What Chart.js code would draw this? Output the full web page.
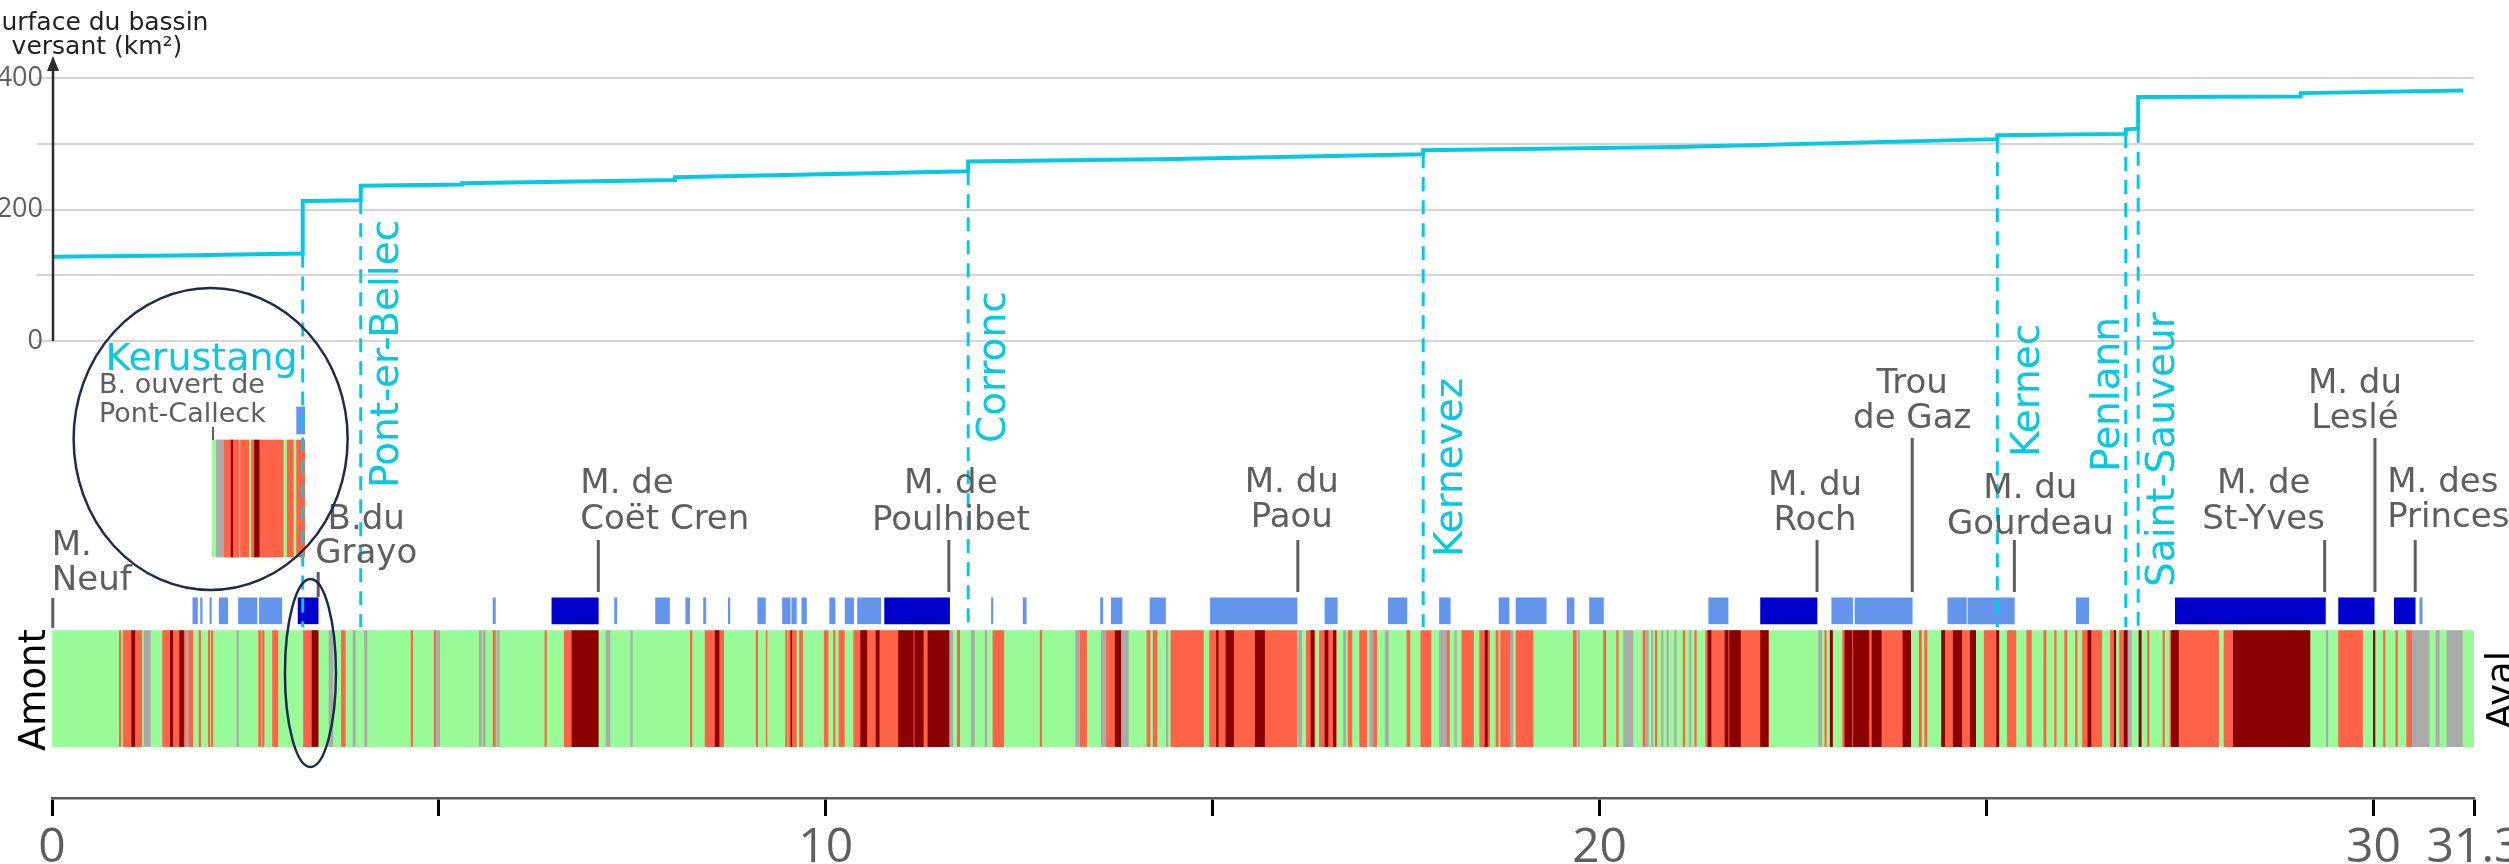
<!DOCTYPE html>
<html lang="fr">
<head>
<meta charset="utf-8">
<title>Surface du bassin versant et tronçons</title>
<script src="https://cdn.jsdelivr.net/npm/chart.js@4.4.1/dist/chart.umd.min.js"></script>
<style>
  html, body { margin: 0; padding: 0; background: #ffffff; overflow: hidden; }
  #wrap { position: relative; width: 2509px; height: 864px; }
  #main { position: absolute; left: 0; top: 0; z-index: 2; }
  #inset { position: absolute; left: 212px; top: 400px; z-index: 1; }
</style>
</head>
<body>
<div id="wrap">
  <canvas id="inset" width="93" height="160"></canvas>
  <canvas id="main" width="2509" height="864"></canvas>
</div>
<script>
// ---------------- DATA ----------------
// Drainage area along the river (distance in km, area in km²)
const areaKm  = [0, 1.6, 3.24, 3.24, 3.99, 3.99, 5.3, 5.3, 8.05, 8.05, 11.84, 11.84, 14.5, 17.72, 17.72, 21.0, 25.14, 25.14, 26.80, 26.80, 26.96, 26.96, 29.06, 29.06, 31.16];
const areaVal = [128, 130, 133, 213, 214, 236, 238, 240, 245, 249, 258, 273, 277, 284, 290, 295, 307, 313, 315, 322, 323, 371, 372, 377, 381];

// Axis ticks
const xTickValues = [0, 5, 10, 15, 20, 25, 30, 31.3];
const xTickLabels = ['0', '', '10', '', '20', '', '30', '31.3'];
const yTickValues = [0, 100, 200, 300, 400];
const yTickLabels = ['0', '', '200', '', '400'];

// Tributaries (confluence distance, km)
const tributaryNames = ['Kerustang', 'Pont-er-Bellec', 'Corronc', 'Kernevez', 'Kernec', 'Penlann', 'Saint-Sauveur'];
const tributaryKm    = [3.24, 3.99, 11.84, 17.72, 25.14, 26.80, 26.96];

// Mills / dams (distance, km)
const millNames = [['M.', 'Neuf'], ['B.du', 'Grayo'], ['M. de', 'Coët Cren'], ['M. de', 'Poulhibet'], ['M. du', 'Paou'],
                   ['M. du', 'Roch'], ['Trou', 'de Gaz'], ['M. du', 'Gourdeau'], ['M. de', 'St-Yves'], ['M. du', 'Leslé'], ['M. des', 'Princes']];
const millKm = [0.01, 3.44, 7.06, 11.59, 16.10, 22.81, 24.04, 25.36, 29.37, 30.02, 30.54];

// Upper band: reaches (km)
const lightBlueSpans = [[1.82,1.88],[1.92,1.94],[2.04,2.06],[2.16,2.27],[2.41,2.65],[2.68,2.97],[5.70,5.73],[7.27,7.30],[7.80,7.98],[8.19,8.24],[8.42,8.45],[8.74,8.76],[9.12,9.22],[9.44,9.54],[9.56,9.62],[9.69,9.75],[10.05,10.12],[10.25,10.36],[10.41,10.71],[12.14,12.16],[12.55,12.59],[13.55,13.58],[13.69,13.83],[14.19,14.39],[14.97,16.09],[16.45,16.61],[17.27,17.51],[17.93,18.07],[18.70,18.83],[18.92,19.31],[19.58,19.67],[19.87,20.05],[21.41,21.66],[23.00,23.27],[23.30,24.04],[24.50,24.74],[24.76,25.36],[26.16,26.32],[30.60,30.63]];
const darkBlueSpans = [[3.18,3.44],[6.46,7.06],[10.76,11.60],[22.08,22.81],[27.44,29.38],[29.55,30.01],[30.27,30.54]];

// Lower band: classes along the river (km)
const greenSpans = [[0, 31.3]];
const redSpans = [[0.87,0.89],[0.92,1.03],[1.07,1.16],[1.43,1.53],[1.56,1.65],[1.70,1.73],[1.76,1.82],[1.90,1.92],[2.02,2.04],[2.06,2.08],[2.67,2.70],[2.72,2.74],[2.85,2.92],[3.25,3.36],[3.74,3.79],[4.64,4.66],[4.94,4.96],[5.70,5.73],[6.37,6.39],[6.62,6.72],[8.25,8.27],[8.44,8.68],[9.10,9.12],[9.23,9.24],[9.48,9.50],[9.52,9.62],[9.66,9.70],[9.98,10.03],[10.10,10.12],[10.17,10.24],[10.36,10.94],[11.13,11.15],[11.26,11.32],[11.70,11.73],[12.16,12.30],[12.77,12.79],[13.28,13.37],[13.62,13.74],[14.15,14.19],[14.23,14.28],[14.46,14.88],[14.96,16.09],[16.21,16.32],[16.38,16.60],[16.75,16.80],[16.90,16.99],[17.07,17.12],[17.51,17.55],[17.69,17.82],[18.02,18.06],[18.22,18.37],[18.45,18.58],[18.66,18.69],[18.72,18.85],[18.92,19.14],[19.66,19.70],[20.05,20.08],[20.22,20.24],[20.56,20.59],[20.72,20.74],[21.08,21.10],[21.23,21.25],[21.37,22.18],[22.91,22.93],[23.14,24.01],[24.13,24.16],[24.20,24.23],[24.42,24.86],[24.97,25.13],[25.27,25.38],[25.52,25.58],[25.74,25.77],[25.88,25.90],[26.01,26.04],[26.15,26.17],[26.24,26.49],[26.60,26.67],[26.72,26.83],[27.08,27.10],[27.28,27.30],[27.37,28.00],[28.07,28.19],[29.55,29.86],[30.13,30.15],[30.29,30.31],[30.43,30.50]];
const darkRedSpans = [[1.03,1.07],[1.53,1.56],[1.65,1.70],[3.36,3.44],[6.72,7.06],[8.57,8.62],[9.55,9.56],[10.45,10.53],[10.65,10.69],[10.94,11.13],[11.15,11.26],[11.32,11.60],[13.74,13.82],[15.05,15.07],[15.17,15.27],[15.55,15.67],[16.27,16.31],[16.45,16.49],[16.56,16.59],[18.52,18.55],[21.40,21.44],[21.62,21.66],[21.68,21.82],[22.08,22.18],[22.98,23.01],[23.17,23.26],[23.28,23.48],[23.52,23.64],[23.92,24.02],[24.42,24.46],[24.57,24.68],[24.79,24.86],[25.13,25.16],[26.31,26.35],[26.65,26.67],[26.78,26.82],[26.97,27.00],[27.39,27.48],[28.19,29.18],[30.00,30.02]];
const greySpans = [[1.19,1.27],[1.73,1.76],[2.39,2.41],[3.58,3.63],[3.89,3.92],[4.04,4.07],[4.97,5.01],[5.52,5.55],[5.57,5.60],[5.75,5.78],[7.16,7.21],[7.48,7.50],[11.60,11.64],[11.88,11.92],[12.06,12.08],[13.23,13.28],[13.56,13.62],[13.82,13.91],[14.40,14.42],[16.11,16.15],[16.69,16.72],[17.03,17.07],[17.23,17.27],[17.93,18.02],[18.13,18.15],[18.85,18.88],[19.72,19.74],[20.31,20.43],[20.60,20.63],[20.67,20.69],[20.80,20.82],[20.87,20.89],[20.97,20.99],[21.16,21.18],[22.83,22.87],[26.83,26.87],[29.39,29.41],[30.50,30.72],[30.81,30.85],[30.95,31.15]];

// Inset (zoomed sketch), relative position 0–100 %
const insetGreenSpans = [[0, 100]];
const insetGreySpans = [[4.7, 11.9]];
const insetRedSpans = [[12.6, 20.5], [22.3, 28.8], [30.6, 39.6], [42.4, 45.7], [50.7, 76.6], [80.9, 87.4], [91, 100]];
const insetDarkRedSpans = [[20.5, 22.3], [45.7, 50.7]];
const insetLightBlueSpans = [[91, 100]];

// ---------------- STYLE / LAYOUT ----------------
const FONT = "'DejaVu Sans', Verdana, sans-serif";
const AXFONT = "'Open Sans', 'DejaVu Sans', sans-serif";
const CYAN = '#06C8E2';
const GREYTXT = '#5E5E5E';
const C_GREEN = '#98FB98', C_RED = '#FF6347', C_DRED = '#8B0000', C_GREY = '#AAAAAA';
const C_LBLUE = '#6495ED', C_DBLUE = '#0000CD';
const STRIP_ROW = 15.2, BLUE_ROW = 26;   // positions on hidden band scale (0–100)

const tribStyle = {
  'Kerustang':      {horizontal: true, dx: -5, y: 370},
  'Pont-er-Bellec': {dx: 37, y: 488},
  'Corronc':        {dx: 37, y: 443},
  'Kernevez':       {dx: 39, y: 557},
  'Kernec':         {dx: 42, y: 457},
  'Penlann':        {dx: -7, y: 472},
  'Saint-Sauveur':  {dx: 36, y: 587}
};
const millStyle = [
  {align: 'left',   dx: -1,  b1: 555, b2: 590, t0: 598, t1: 628},
  {align: 'center', dx: 48,  b1: 529, b2: 563, t0: 572, t1: 597},
  {align: 'left',   dx: -18, b1: 493, b2: 529, t0: 540, t1: 592},
  {align: 'center', dx: 2,   b1: 493, b2: 530, t0: 540, t1: 592},
  {align: 'center', dx: -6,  b1: 492, b2: 527, t0: 540, t1: 592},
  {align: 'center', dx: -2,  b1: 495, b2: 530, t0: 540, t1: 592},
  {align: 'center', dx: 0,   b1: 393, b2: 428, t0: 438, t1: 592},
  {align: 'center', dx: 16,  b1: 498, b2: 534, t0: 540, t1: 592},
  {align: 'center', dx: -61, b1: 493, b2: 529, t0: 540, t1: 592},
  {align: 'center', dx: -20, b1: 393, b2: 428, t0: 438, t1: 592},
  {align: 'left',   dx: -28, b1: 492, b2: 527, t0: 540, t1: 592}
];

function spans(arr, row) { return arr.map(s => ({x: s, y: row})); }
function bandSet(arr, row, color, thick, order) {
  return {type: 'bar', indexAxis: 'y', data: spans(arr, row), xAxisID: 'x', yAxisID: 'yb',
          backgroundColor: color, borderWidth: 0, barThickness: thick, grouped: false, order: order};
}

const annotPlugin = {
  id: 'annot',
  afterDatasetsDraw(chart) {
    const {ctx, scales: {x, y}} = chart;
    ctx.save();

    // y axis with arrow
    const ax = x.getPixelForValue(0) + 1;
    ctx.strokeStyle = '#2b2b2b'; ctx.fillStyle = '#2b2b2b'; ctx.lineWidth = 2.5;
    ctx.beginPath(); ctx.moveTo(ax, y.getPixelForValue(0)); ctx.lineTo(ax, 66); ctx.stroke();
    ctx.beginPath(); ctx.moveTo(ax, 56); ctx.lineTo(ax - 6, 71); ctx.lineTo(ax + 6, 71); ctx.closePath(); ctx.fill();

    // axis title
    ctx.fillStyle = '#222'; ctx.font = '25px ' + FONT; ctx.textAlign = 'center'; ctx.textBaseline = 'alphabetic';
    ctx.fillText('Surface du bassin', 97, 30);
    ctx.fillText('versant (km²)', 97, 54);

    // tributary dashed lines & labels
    ctx.lineWidth = 3; ctx.strokeStyle = CYAN; ctx.fillStyle = CYAN; ctx.setLineDash([14, 9]);
    tributaryNames.forEach((name, i) => {
      const km = tributaryKm[i];
      let idx = areaKm.findIndex(k => k >= km - 1e-9);
      if (idx < 0) idx = areaKm.length - 1;
      const px = x.getPixelForValue(km);
      const top = y.getPixelForValue(areaVal[idx]);
      ctx.beginPath(); ctx.moveTo(px, top); ctx.lineTo(px, 627); ctx.stroke();
    });
    ctx.setLineDash([]);
    tributaryNames.forEach((name, i) => {
      const st = tribStyle[name];
      const px = x.getPixelForValue(tributaryKm[i]);
      ctx.textBaseline = 'alphabetic';
      if (st.horizontal) {
        ctx.font = '38px ' + FONT; ctx.textAlign = 'right';
        ctx.fillText(name, px + st.dx, st.y);
      } else {
        ctx.font = '39px ' + FONT; ctx.textAlign = 'left';
        ctx.save(); ctx.translate(px + st.dx, st.y); ctx.rotate(-Math.PI / 2);
        ctx.fillText(name, 0, 0); ctx.restore();
      }
    });

    // mills
    ctx.font = '34px ' + FONT; ctx.fillStyle = GREYTXT; ctx.strokeStyle = GREYTXT; ctx.lineWidth = 3;
    millNames.forEach((lines, i) => {
      const st = millStyle[i];
      const px = x.getPixelForValue(millKm[i]);
      ctx.beginPath(); ctx.moveTo(px, st.t0); ctx.lineTo(px, st.t1); ctx.stroke();
      ctx.textAlign = st.align;
      ctx.fillText(lines[0], px + st.dx, st.b1);
      ctx.fillText(lines[1], px + st.dx, st.b2);
    });

    // inset labels
    ctx.font = '27px ' + FONT; ctx.textAlign = 'left';
    ctx.fillText('B. ouvert de', 99, 393);
    ctx.fillText('Pont-Calleck', 99, 422);

    // Amont / Aval
    ctx.fillStyle = '#000'; ctx.font = '37px ' + FONT; ctx.textAlign = 'center';
    ctx.save(); ctx.translate(45, 690); ctx.rotate(-Math.PI / 2); ctx.fillText('Amont', 0, 0); ctx.restore();
    ctx.save(); ctx.translate(2513, 690); ctx.rotate(-Math.PI / 2); ctx.fillText('Aval', 0, 0); ctx.restore();

    // ellipses
    ctx.strokeStyle = '#1B2A4E'; ctx.lineWidth = 2.5;
    ctx.beginPath(); ctx.ellipse(x.getPixelForValue(2.05), 439, 137, 151, 0, 0, Math.PI * 2); ctx.stroke();
    ctx.beginPath(); ctx.ellipse(x.getPixelForValue(3.34), 673, 25.5, 94, 0, 0, Math.PI * 2); ctx.stroke();

    ctx.restore();
  }
};

new Chart(document.getElementById('main'), {
  type: 'line',
  data: {
    datasets: [
      {type: 'line', data: areaKm.map((k, i) => ({x: k, y: areaVal[i]})), xAxisID: 'x', yAxisID: 'y',
       borderColor: CYAN, borderWidth: 4, pointRadius: 0, tension: 0, fill: false, order: 0},
      bandSet(darkBlueSpans, BLUE_ROW, C_DBLUE, 26, 1),
      bandSet(lightBlueSpans, BLUE_ROW, C_LBLUE, 26, 2),
      bandSet(greySpans, STRIP_ROW, C_GREY, 116, 3),
      bandSet(darkRedSpans, STRIP_ROW, C_DRED, 116, 4),
      bandSet(redSpans, STRIP_ROW, C_RED, 116, 5),
      bandSet(greenSpans, STRIP_ROW, C_GREEN, 116, 6)
    ]
  },
  options: {
    responsive: false, animation: false, devicePixelRatio: 1,
    layout: {padding: {left: 0, right: 35, top: 78, bottom: 0}},
    plugins: {legend: {display: false}, tooltip: {enabled: false}},
    scales: {
      x: {
        type: 'linear', position: 'bottom', min: 0, max: 31.3, offset: false,
        afterBuildTicks: s => { s.ticks = xTickValues.map(v => ({value: v})); },
        afterFit: s => { s.height = 66; s.paddingLeft = 0; s.paddingRight = 0; },
        ticks: {autoSkip: false, maxRotation: 0, minRotation: 0, padding: 4, color: GREYTXT,
                font: {family: AXFONT, size: 48}, callback: (v, i) => xTickLabels[i]},
        grid: {display: true, drawOnChartArea: false, drawTicks: true, tickLength: 18, tickColor: '#000', tickWidth: 3},
        border: {display: true, color: '#5a5a5a', width: 2.5}
      },
      y: {
        type: 'linear', position: 'left', min: -695, max: 400, offset: false,
        afterBuildTicks: s => { s.ticks = yTickValues.map(v => ({value: v})); },
        afterFit: s => { s.width = 52; s.paddingTop = 0; s.paddingBottom = 0; },
        ticks: {autoSkip: false, padding: -6, color: GREYTXT, font: {family: AXFONT, size: 27},
                callback: (v, i) => yTickLabels[i]},
        grid: {display: true, color: '#D4D4D4', lineWidth: 2, tickLength: 15, tickColor: '#D4D4D4'},
        border: {display: false}
      },
      yb: {type: 'linear', display: false, min: 0, max: 100, offset: false}
    }
  },
  plugins: [annotPlugin]
});

// ---------------- INSET ----------------
const insetTick = {
  id: 'insetTick',
  afterDatasetsDraw(chart) {
    const {ctx, chartArea} = chart;
    ctx.save(); ctx.strokeStyle = GREYTXT; ctx.lineWidth = 2;
    ctx.beginPath(); ctx.moveTo(chartArea.left + 1, 27); ctx.lineTo(chartArea.left + 1, 40); ctx.stroke();
    ctx.restore();
  }
};
function insetSet(arr, row, color, thick, order) {
  return {data: spans(arr, row), backgroundColor: color, borderWidth: 0, barThickness: thick, grouped: false, order: order};
}
new Chart(document.getElementById('inset'), {
  type: 'bar',
  data: {
    datasets: [
      insetSet(insetLightBlueSpans, 139.5, C_LBLUE, 27, 1),
      insetSet(insetGreySpans, 61.5, C_GREY, 117, 2),
      insetSet(insetDarkRedSpans, 61.5, C_DRED, 117, 3),
      insetSet(insetRedSpans, 61.5, C_RED, 117, 4),
      insetSet(insetGreenSpans, 61.5, C_GREEN, 117, 5)
    ]
  },
  options: {
    indexAxis: 'y', responsive: false, animation: false, devicePixelRatio: 1,
    layout: {padding: 0},
    plugins: {legend: {display: false}, tooltip: {enabled: false}},
    scales: {
      x: {type: 'linear', display: false, min: 0, max: 100, offset: false},
      y: {type: 'linear', display: false, min: 0, max: 160, offset: false}
    }
  },
  plugins: [insetTick]
});
</script>
</body>
</html>
